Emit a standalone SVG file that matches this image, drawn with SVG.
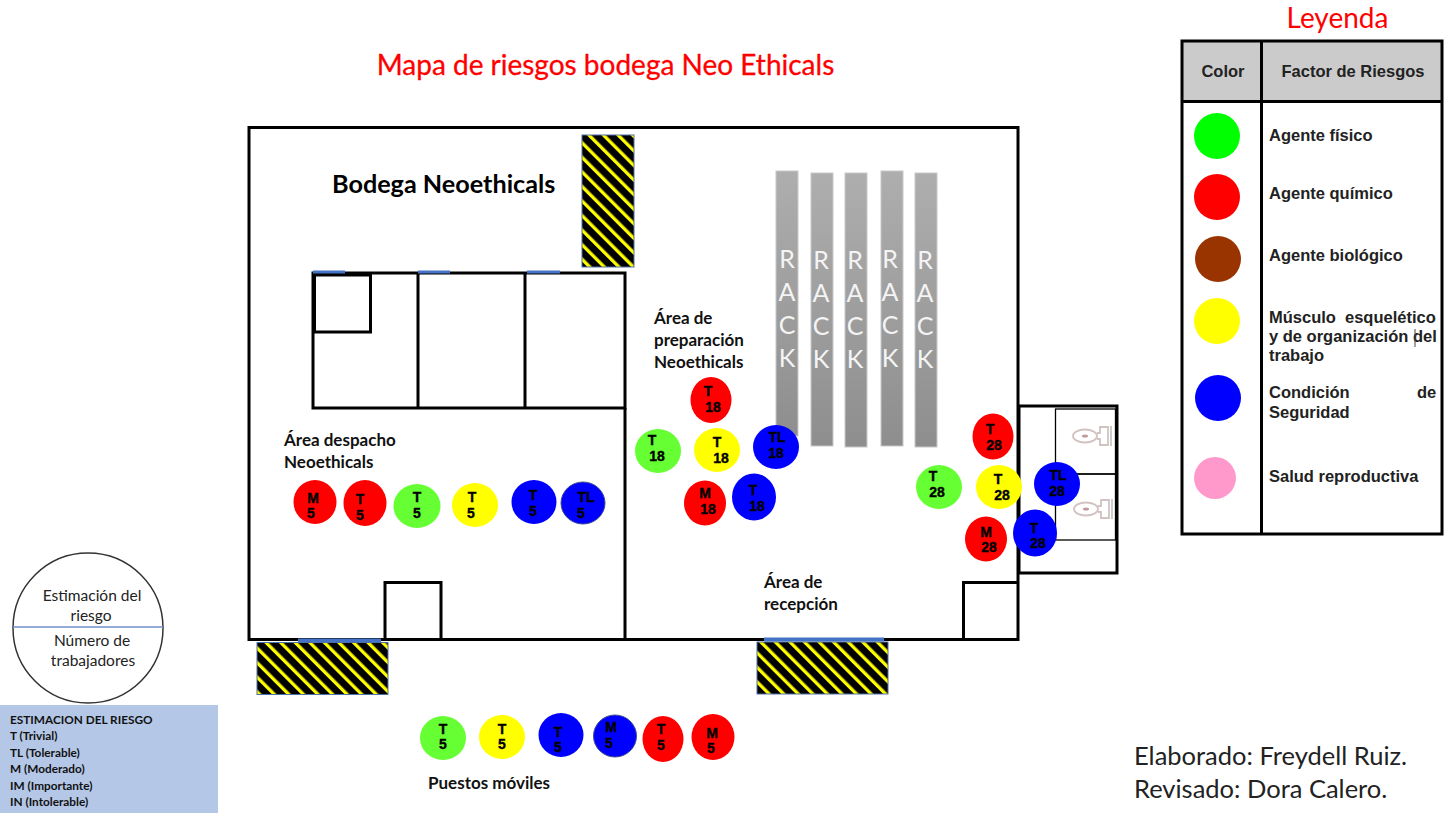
<svg xmlns="http://www.w3.org/2000/svg" width="1444" height="813" viewBox="0 0 1444 813">
<style>
.w{fill:none;stroke:#000;stroke-width:3}
.d{stroke:#4472c4;stroke-width:3;fill:none}
.h{fill:url(#hatch);stroke:#4f6fa8;stroke-width:1}
.r{fill:url(#rack);stroke:#c8c8c8;stroke-width:1}
.rt{font:25px Lato,"Open Sans",sans-serif;fill:#f4f4f4;text-anchor:middle}
.c{font:bold 14px "Liberation Sans",Arial,sans-serif;fill:#000;stroke:#000;stroke-width:.35;text-anchor:middle}
.l{font:bold 17px Lato,"Open Sans",sans-serif;fill:#111}
.lg{font:bold 16.500px "Liberation Sans",Arial,sans-serif;fill:#222}
.e{font:15.500px Lato,"Open Sans",sans-serif;fill:#222;text-anchor:middle}
.b{font:bold 11.800px Lato,"Open Sans",sans-serif;fill:#111}
.f{font:25.500px Lato,"Open Sans",sans-serif;fill:#222}
.toilet{fill:none;stroke:#d3c2c2;stroke-width:1.800}
.g{fill:#66ff33}.y{fill:#ffff00}.re{fill:#ff0000}.bl{fill:#0000ff}
.o{stroke:#3f4f8f;stroke-width:1}
</style>
<defs>
<pattern id="hatch" width="10.300" height="10.300" patternUnits="userSpaceOnUse" patternTransform="rotate(-45)">
<rect width="10.300" height="10.300" fill="#000"/><rect width="3.300" height="10.300" fill="#ffff00"/>
</pattern>
<linearGradient id="rack" x1="0" y1="0" x2="0" y2="1"><stop offset="0" stop-color="#aeaeae"/><stop offset="1" stop-color="#8e8e8e"/></linearGradient>
<g id="toilet"><ellipse cx="13" cy="0" rx="12" ry="6.500" class="toilet"/><ellipse cx="13" cy="0" rx="3" ry="1.500" fill="#c09a9a"/><path d="M25-3h3V-9h8V9h-8V3h-3" class="toilet"/><path d="M39-10V10" stroke="#bbb" stroke-width="1.500"/></g>
</defs>
<rect width="1444" height="813" fill="#fff"/>
<text x="605.500" y="75" text-anchor="middle" style="font:28px Lato,'Open Sans',sans-serif;fill:#f00;stroke:#f00;stroke-width:.3">Mapa de riesgos bodega Neo Ethicals</text>

<g id="plano">
<rect class="w" x="249" y="127.500" width="769" height="512"/>
<rect class="w" x="313" y="273" width="312" height="135"/>
<path class="w" d="M418 273V408M525 273V408M625 408V640"/>
<rect class="w" x="314.500" y="275" width="56" height="57"/>
<path class="w" d="M385 640V582.500H441V640M963.500 640V582.500H1018"/>
<path class="d" d="M313 272H345M418 272H450M527 272H560"/>
<path d="M298 640.500H381M764 639.500H884" stroke="#4472c4" stroke-width="4"/>
<rect class="h" x="257" y="642.500" width="131" height="52"/>
<rect class="h" x="757" y="642" width="131" height="52"/>
<rect class="h" x="582" y="135" width="52" height="132"/>
<text x="332" y="193" style="font:bold 25.200px Lato,'Open Sans',sans-serif;fill:#000">Bodega Neoethicals</text>
</g>

<g id="racks">
<rect class="r" x="776" y="171" width="22" height="265"/>
<rect class="r" x="811" y="173" width="22" height="273"/>
<rect class="r" x="845" y="173" width="22" height="274"/>
<rect class="r" x="881" y="171" width="22" height="275"/>
<rect class="r" x="915" y="173" width="22" height="274"/>
<text class="rt"><tspan x="787" y="268">R</tspan><tspan x="787" y="301">A</tspan><tspan x="787" y="334">C</tspan><tspan x="787" y="367">K</tspan></text>
<text class="rt"><tspan x="821" y="269">R</tspan><tspan x="821" y="302">A</tspan><tspan x="821" y="335">C</tspan><tspan x="821" y="368">K</tspan></text>
<text class="rt"><tspan x="855" y="269">R</tspan><tspan x="855" y="302">A</tspan><tspan x="855" y="335">C</tspan><tspan x="855" y="368">K</tspan></text>
<text class="rt"><tspan x="890" y="268">R</tspan><tspan x="890" y="301">A</tspan><tspan x="890" y="334">C</tspan><tspan x="890" y="367">K</tspan></text>
<text class="rt"><tspan x="925" y="269">R</tspan><tspan x="925" y="302">A</tspan><tspan x="925" y="335">C</tspan><tspan x="925" y="368">K</tspan></text>
</g>

<g id="banos">
<rect class="w" x="1019" y="406" width="98" height="167"/>
<rect x="1055.500" y="409" width="60" height="65" fill="none" stroke="#000" stroke-width="1.300"/>
<rect x="1055.500" y="474" width="60" height="66" fill="none" stroke="#000" stroke-width="1.300"/>
<use href="#toilet" x="1072" y="436"/>
<use href="#toilet" x="1073" y="509"/>
</g>

<g id="areas">
<text class="l"><tspan x="284" y="446">Área despacho</tspan><tspan x="284" y="468">Neoethicals</tspan></text>
<text class="l"><tspan x="654" y="324">Área de</tspan><tspan x="654" y="346">preparación</tspan><tspan x="654" y="368">Neoethicals</tspan></text>
<text class="l"><tspan x="764" y="588">Área de</tspan><tspan x="764" y="610">recepción</tspan></text>
<text class="l" x="428" y="789">Puestos móviles</text>
</g>

<g id="riesgos">
<g id="d1"><ellipse class="re" cx="315" cy="502" rx="21.500" ry="22"/><text class="c"><tspan x="313" y="503">M</tspan><tspan x="311" y="518">5</tspan></text></g>
<g id="d2"><ellipse class="re" cx="365" cy="503" rx="21.500" ry="23"/><text class="c"><tspan x="360" y="504">T</tspan><tspan x="360" y="520">5</tspan></text></g>
<g id="d3"><ellipse class="g" cx="417" cy="506" rx="23.500" ry="22"/><text class="c"><tspan x="417" y="502">T</tspan><tspan x="417" y="518">5</tspan></text></g>
<g id="d4"><ellipse class="y" cx="475" cy="505" rx="23" ry="22"/><text class="c"><tspan x="472" y="502">T</tspan><tspan x="471" y="518">5</tspan></text></g>
<g id="d5"><ellipse class="bl" cx="534" cy="502" rx="22.500" ry="22"/><text class="c"><tspan x="533" y="500">T</tspan><tspan x="533" y="516">5</tspan></text></g>
<g id="d6"><ellipse class="bl o" cx="583" cy="503" rx="22" ry="21"/><text class="c"><tspan x="586" y="502">TL</tspan><tspan x="581" y="518">5</tspan></text></g>

<g id="p1"><ellipse class="re" cx="711" cy="400" rx="20.500" ry="23"/><text class="c"><tspan x="708" y="396">T</tspan><tspan x="713" y="412">18</tspan></text></g>
<g id="p2"><ellipse class="g" cx="658" cy="451" rx="23" ry="22"/><text class="c"><tspan x="652" y="445">T</tspan><tspan x="657" y="461">18</tspan></text></g>
<g id="p3"><ellipse class="y" cx="717" cy="450" rx="23" ry="22"/><text class="c"><tspan x="717" y="447">T</tspan><tspan x="721" y="463">18</tspan></text></g>
<g id="p4"><ellipse class="bl" cx="776" cy="447" rx="23" ry="22"/><text class="c"><tspan x="777" y="442">TL</tspan><tspan x="776" y="458">18</tspan></text></g>
<g id="p5"><ellipse class="re" cx="705" cy="503" rx="21" ry="22.500"/><text class="c"><tspan x="705" y="498">M</tspan><tspan x="708" y="514">18</tspan></text></g>
<g id="p6"><ellipse class="bl" cx="754" cy="497" rx="22" ry="23.500"/><text class="c"><tspan x="753" y="495">T</tspan><tspan x="757" y="511">18</tspan></text></g>

<g id="r1"><ellipse class="re" cx="993" cy="436.500" rx="20.500" ry="23"/><text class="c"><tspan x="990" y="434">T</tspan><tspan x="994" y="450">28</tspan></text></g>
<g id="r2"><ellipse class="g" cx="939" cy="487" rx="23" ry="22"/><text class="c"><tspan x="933" y="481">T</tspan><tspan x="937" y="497">28</tspan></text></g>
<g id="r3"><ellipse class="y" cx="999" cy="487" rx="23" ry="22"/><text class="c"><tspan x="998" y="484">T</tspan><tspan x="1002" y="500">28</tspan></text></g>
<g id="r4"><ellipse class="bl" cx="1057" cy="484" rx="23" ry="22"/><text class="c"><tspan x="1058" y="480">TL</tspan><tspan x="1057" y="496">28</tspan></text></g>
<g id="r5"><ellipse class="re" cx="986" cy="539" rx="21" ry="22.500"/><text class="c"><tspan x="986" y="537">M</tspan><tspan x="989" y="552">28</tspan></text></g>
<g id="r6"><ellipse class="bl" cx="1035" cy="533" rx="22" ry="23.500"/><text class="c"><tspan x="1034" y="533">T</tspan><tspan x="1038" y="548">28</tspan></text></g>

<g id="m1"><ellipse class="g" cx="443" cy="738" rx="23" ry="22"/><text class="c"><tspan x="443" y="734">T</tspan><tspan x="443" y="749">5</tspan></text></g>
<g id="m2"><ellipse class="y" cx="502" cy="737" rx="23" ry="22"/><text class="c"><tspan x="502" y="734">T</tspan><tspan x="502" y="749">5</tspan></text></g>
<g id="m3"><ellipse class="bl" cx="561" cy="735" rx="22.500" ry="22"/><text class="c"><tspan x="558" y="737">T</tspan><tspan x="558" y="752">5</tspan></text></g>
<g id="m4"><ellipse class="bl o" cx="615" cy="736" rx="21.500" ry="21"/><text class="c"><tspan x="611" y="732">M</tspan><tspan x="609" y="748">5</tspan></text></g>
<g id="m5"><ellipse class="re" cx="663" cy="739" rx="20.500" ry="23"/><text class="c"><tspan x="661" y="734">T</tspan><tspan x="661" y="750">5</tspan></text></g>
<g id="m6"><ellipse class="re" cx="713" cy="737" rx="21.500" ry="23"/><text class="c"><tspan x="712" y="738">M</tspan><tspan x="711" y="753">5</tspan></text></g>
</g>

<g id="leyenda">
<text x="1337.500" y="28" text-anchor="middle" style="font:28px Lato,'Open Sans',sans-serif;fill:#f00">Leyenda</text>
<rect x="1182" y="41" width="260" height="60" fill="#cbcbcb"/>
<rect class="w" x="1182" y="41" width="260" height="493"/>
<path class="w" d="M1182 101.500H1442M1261.500 41V534"/>
<text class="lg" text-anchor="middle" x="1223" y="77">Color</text>
<text class="lg" text-anchor="middle" x="1353" y="77">Factor de Riesgos</text>
<circle cx="1217" cy="136" r="23" fill="#00ff00"/>
<circle cx="1217" cy="197" r="23" fill="#ff0000"/>
<circle cx="1218" cy="259" r="23" fill="#993300"/>
<circle cx="1217" cy="321" r="23" fill="#ffff00"/>
<circle cx="1218" cy="398" r="23" fill="#0000ff"/>
<circle cx="1215" cy="478" r="21" fill="#ff99cc"/>
<text class="lg" x="1269" y="141">Agente físico</text>
<text class="lg" x="1269" y="199">Agente químico</text>
<text class="lg" x="1269" y="261">Agente biológico</text>
<text class="lg"><tspan x="1269" y="323">Músculo</tspan><tspan x="1345" y="323">esquelético</tspan><tspan x="1269" y="342">y de organización del</tspan><tspan x="1269" y="361">trabajo</tspan></text>
<path d="M1415 329V347" stroke="#444" stroke-width="1"/>
<text class="lg"><tspan x="1269" y="398">Condición</tspan><tspan x="1417" y="398">de</tspan><tspan x="1269" y="418">Seguridad</tspan></text>
<text class="lg" x="1269" y="482">Salud reproductiva</text>
</g>

<g id="estimacion">
<circle cx="88" cy="628" r="75" fill="#fff" stroke="#333" stroke-width="1.500"/>
<path d="M13 627H163" stroke="#6f8fc8" stroke-width="1.300"/>
<text class="e"><tspan x="92" y="601">Estimación del</tspan><tspan x="91" y="621">riesgo</tspan><tspan x="92" y="646">Número de</tspan><tspan x="93" y="666">trabajadores</tspan></text>
<rect x="0" y="705" width="218" height="108" fill="#b4c7e7"/>
<text class="b"><tspan x="10" y="724">ESTIMACION DEL RIESGO</tspan><tspan x="10" y="740">T (Trivial)</tspan><tspan x="10" y="757">TL (Tolerable)</tspan><tspan x="10" y="773">M (Moderado)</tspan><tspan x="10" y="790">IM (Importante)</tspan><tspan x="10" y="806">IN (Intolerable)</tspan></text>
</g>

<g id="firma">
<text class="f"><tspan x="1134" y="765">Elaborado: Freydell Ruiz.</tspan><tspan x="1134" y="798">Revisado: Dora Calero.</tspan></text>
</g>
</svg>
